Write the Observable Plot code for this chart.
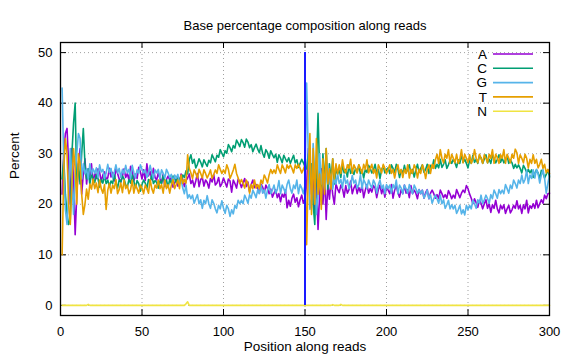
<!DOCTYPE html>
<html>
<head>
<meta charset="utf-8">
<script src="https://cdn.jsdelivr.net/npm/d3@7"></script>
<script src="https://cdn.jsdelivr.net/npm/@observablehq/plot@0.6"></script>
<style>
  body { margin: 0; background: white; }
  #chart svg { display: block; }
</style>
</head>
<body>
<div id="chart"></div>
<script>
const title = "Base percentage composition along reads";
const xLabel = "Position along reads";
const yLabel = "Percent";
const bases = ["A", "C", "G", "T", "N"];
const colors = ["#9400d3", "#009e73", "#56b4e9", "#e69f00", "#f0e442"];
const xTicks = [0, 50, 100, 150, 200, 250, 300];
const yTicks = [0, 10, 20, 30, 40, 50];
const splitPosition = [150];

const A = [
 22,30,34,35,28,20,31,25,14,22,
 28,31,22,26,29,24,27,25.5,28,24,
 26.2,25.1,27,26.3,24.5,25.8,26.4,25,25.2,27.1,
 25.4,26.3,24.6,27.2,26.1,25,24.4,25.6,27,25.3,
 26.1,24.8,27.5,26.7,24.6,26,25.1,27.3,26.4,25,
 26.8,24.7,28,25.6,26.5,24.9,27.1,25.3,24.8,26.2,
 25.1,24.2,26,23.5,24.9,25.6,24.8,25.3,23.4,24.2,
 25,23.6,24.4,26,24.9,23.5,24.7,25.2,26,24.1,
 24.8,23.4,24.6,26.1,23.5,24.9,25.3,23.6,24.8,24.3,
 23.2,25.1,24.4,25.9,23.8,24.2,25.3,23.5,24.1,25.2,
 24.3,23.4,25,24.6,22.4,24.8,24.1,23.2,25,24.4,
 23.3,24.2,25.1,23.5,24.4,22.5,23.9,24.8,23.3,23.9,
 23.1,22.2,24,23.4,22.3,23.8,23.1,22.1,23,21.4,
 22.2,22.9,21.3,22.1,20.5,22,21.4,22.8,19.3,20.8,
 19.6,21.2,22,20.4,21.3,19.5,20.9,21.8,20.2,21,
 24,31,29,22,27,19,25,15,22,27,
 20,26,17,24,21,25,22,20,24,23,
 22.3,23.8,23.1,21.4,23.7,22.2,22.9,24.6,22.1,23.2,
 23.9,22.1,23.3,22.4,23.8,21.3,22.8,23.9,22.2,23.1,
 22.4,23.7,23.2,21.3,22.9,23.8,22.1,23.2,21.4,23.6,
 22.8,22.1,23.9,21.2,22.8,23.7,22.3,21.4,22.9,22.1,
 23.8,22.2,22.9,21.3,23.7,22.1,22.8,22.2,21.1,22.9,
 22.1,22.8,21.2,22.3,22.9,21.1,22.2,22.8,22.1,21.2,
 21.9,21.1,22.8,22.1,21.3,21.9,21.2,22.7,22,21.1,
 21.8,21.2,22.9,22.1,21.3,22.2,22.8,22.3,23.7,23.1,
 22,21.2,20.1,21.1,20.3,19.4,20.8,20.2,19.1,20.1,
 20.9,19.2,20.1,18.4,19.9,19.2,20.8,19.1,18.3,19.8,
 19.1,19.9,18.2,19.1,19.8,18.3,18.9,19.8,19.2,20.7,
 19.1,19.8,18.2,19.9,19.1,20.8,18.3,19.7,19.2,20.1,
 19.2,20.8,19.3,20.1,20.9,20.2,21.8,21.1,22.1,22.2
];
const C = [
 25,29,22,18,16,17,30,36,40,23,
 28,24,30,35,28,25,27,24,26,25,
 24.3,25.8,25.1,23.4,24.9,24.2,25.7,24.1,24.8,23.5,
 24.6,24.1,25.9,24.3,23.2,24.8,24.4,25.6,25,23.8,
 23.4,24.9,24.2,25.8,24.5,23.3,24.7,24.1,22.6,23.9,
 24.8,24.2,23.1,24.9,24.5,25.8,24.1,24.7,24.3,23.2,
 24.6,24.1,25.7,24.3,24.8,23.4,24.9,24.2,25.6,25.1,
 24.3,25.5,25,24.2,25.8,25.3,26.6,26,28.8,29.8,
 28.1,28.9,27.2,27.9,29,28.3,27.4,28.8,28.1,27.5,
 28.7,28.2,29.8,29.1,28.4,29.7,29.3,30.8,30.1,29.4,
 30.6,30.1,31.8,31.2,30.4,31.6,31.1,32.7,32.1,31.4,
 32.8,32.2,31.3,32.9,32.3,31.2,31.8,30.4,31.2,31.9,
 30.9,30.2,31.6,30.1,29.3,30.8,30.2,29.1,30.6,29.8,
 29.2,29.9,28.3,29.8,29.1,28.2,29.7,29,28.4,29.2,
 28.1,28.9,29.7,28.2,28.8,27.3,28.1,28.9,28.2,27.4,
 27,30,24,28,20,16,27,38,26,21,
 30,24,31,23,28,25,29,24,27,26,
 26.8,25.3,27.9,26.2,26.9,25.4,27.8,26.1,26.7,25.9,
 27.1,26.3,27.8,26,26.8,25.2,26.9,26.3,27.7,27.1,
 26.2,26.8,27.9,26.1,26.9,25.1,26.8,27.6,26.2,26.9,
 27.2,26.1,27.8,27.1,26.3,27.9,27,25.3,26.8,26.1,
 27.7,26.2,26.9,27.8,26.1,26.9,25.4,26.8,27.9,26.3,
 27.1,27.8,26.3,26.9,27.9,26.1,27.7,27.2,28.8,27.1,
 27.9,27.2,28.9,27.3,27.9,28.8,27.1,27.8,28.7,28.1,
 28.9,28.2,27.3,28.8,28.1,29.8,28.3,28.9,28.1,27.2,
 28.8,28.1,29.7,28.3,28.9,28.1,29.6,29.2,28.1,28.9,
 29.8,28.2,28.9,28.1,29.7,29.1,28.2,28.9,29.8,28.3,
 29.1,28.2,28.8,29.6,28.1,28.8,28.2,27.1,27.9,27.2,
 27.8,27.1,26.2,27.7,27.1,26.3,26.9,26.2,26.8,25.3,
 26.1,26.8,26.2,25.1,26.7,26.2,25.2,25.9,26.8,25.4
];
const G = [
 43,28,19,16,22,31,25,18,26,30,
 34,33,25,28,26,27,25,28,26,27,
 26.1,27.2,25.3,27.8,26.4,26.9,25.1,26.2,27.9,26.3,
 27.1,25.2,26.4,27.8,26.2,27.1,25.3,26.9,26.1,27.7,
 26.2,26.9,25.1,27.7,26.3,25.2,26.8,26.1,27.8,26.9,
 26.2,26.8,25.3,26.1,27.7,26.2,25.1,26.8,26.2,26.9,
 25.1,26.8,26.1,25.2,26.9,26.2,25.3,25.9,24.1,25.8,
 25.2,25.9,24.1,24.9,23.2,22.1,23.8,21.2,21.9,21.1,
 21.8,20.2,21.1,21.9,20.1,20.9,19.2,20.8,20.1,21.7,
 20.1,19.2,20.9,20.2,19.1,18.3,19.8,19.1,20.7,19.2,
 18.2,19.8,19.1,17.6,18.9,18.1,19.8,19.2,20.8,20.1,
 20.8,20.1,21.8,21.1,20.2,21.9,21.2,22.8,22.1,21.3,
 22.9,22.1,23.8,22.2,22.9,21.2,22.8,23.9,22.1,22.8,
 23.8,22.2,22.9,24.7,22.1,23.8,23.1,22.2,23.9,24.8,
 23.1,22.2,23.8,23.1,24.8,22.1,23.9,23.2,22.1,23.8,
 44,30,19,21,32,26,18,22,30,24,
 27,23,25,28,24,26,23,25,24,26,
 24.1,24.9,23.2,25.8,24.1,24.8,23.1,23.9,25.7,24.2,
 24.8,23.2,23.9,25.8,23.1,24.9,24.2,23.1,24.8,23.9,
 23.2,24.8,24.1,22.2,23.9,24.8,23.1,23.8,22.1,23.9,
 23.1,23.8,22.2,23.9,23.1,24.8,22.1,23.8,23.2,22.1,
 23.8,23.1,22.2,23.9,22.8,22.1,23.8,23.1,22.2,22.9,
 22.1,22.8,21.2,21.9,22.8,21.1,21.9,20.2,21.1,21.8,
 21.1,20.2,21.8,20.1,20.9,19.2,19.9,20.8,19.1,19.9,
 19.1,19.8,18.2,18.9,19.8,18.1,18.9,17.9,19.8,18.9,
 19.8,19.1,20.8,20.1,19.2,20.9,20.2,21.8,20.1,20.9,
 21.8,21.1,20.2,21.9,21.1,22.8,22.1,21.2,22.9,22.1,
 22.8,22.1,23.9,23.1,22.2,23.8,23.1,24.8,24.1,23.2,
 24.8,24.1,25.8,24.2,24.9,26.7,24.1,25.8,25.1,26.8,
 25.2,26.9,26.1,24.2,25.8,26.9,25.1,22.2,24.1,25.8
];
const T = [
 10,27,33,30,20,16,24,31,27,20,
 30,28,22,18,20,23,21,24,23,25,
 23.1,24.2,22.3,24.8,23.1,22.2,23.9,19,22.8,24.1,
 22.2,23.8,23.1,24.9,22.1,22.9,24.2,22.3,24.8,23.1,
 23.8,22.1,22.9,24.8,22.2,23.9,23.1,22.2,23.8,23.2,
 22.1,23.8,23.1,22.2,24.9,23.1,22.2,23.8,23.2,24.8,
 23.1,23.9,22.2,24.8,23.1,23.9,22.2,23.8,24.9,23.1,
 23.9,24.8,23.1,25.8,24.1,24.9,24.2,29.8,27.1,26.2,
 25.1,26.8,26.1,25.2,26.9,26.1,25.2,26.8,26.1,25.2,
 25.9,26.8,25.1,25.9,26.8,26.1,27.8,26.9,26.1,26.8,
 26.1,27.8,26.9,25.1,25.9,26.8,27.9,26.1,25.2,24.1,
 24.9,24.1,23.2,24.8,24.1,22.2,23.9,23.1,24.8,23.2,
 23.9,23.1,24.8,24.1,25.8,25.1,24.2,25.8,26.9,26.1,
 26.8,26.1,27.8,26.9,26.1,27.8,27.1,26.2,27.8,27.1,
 27.8,27.1,26.2,27.8,27.1,27.9,27.1,26.2,26.9,27.8,
 12,26,34,18,31,20,33,22,26,19,
 29,22,31,24,27,23,29,25,28,26,
 27.8,26.1,28.8,26.9,26.2,27.8,27.1,28.9,26.1,27.8,
 27.1,26.2,27.8,27.1,26.1,27.9,26.9,28.8,26.2,27.1,
 27.9,26.1,26.9,25.2,27.8,27.1,26.2,27.9,27.1,26.1,
 26.9,27.8,26.1,26.9,25.2,26.9,27.8,26.1,26.9,25.3,
 26.9,26.1,27.8,25.2,26.9,26.1,27.8,27.1,25.2,26.9,
 26.1,27.8,26.9,25.1,26.9,27.8,26.1,27.9,27.1,28.8,
 29.9,28.1,30.8,29.1,28.2,29.9,29.1,30.8,28.1,29.9,
 29.1,28.2,29.9,28.1,28.9,30.8,28.2,29.9,29.1,28.2,
 29.8,28.1,28.9,30.8,29.1,28.2,29.9,29.1,28.1,29.8,
 29.1,28.2,29.9,29.1,30.8,28.1,29.9,29.2,28.1,29.8,
 29.1,30.8,28.1,29.9,29.1,28.2,29.9,29.1,30.9,30.2,
 28.1,29.8,29.1,28.2,29.9,29.1,27.2,28.9,28.1,29.8,
 28.1,28.9,27.2,27.9,28.9,27.1,27.9,26.2,26.9,26.1
];
const N = [
 0,0,0,0,0,0,0,0,0,0,
 0,0,0,0,0,0,0.2,0,0,0,
 0,0,0,0,0,0,0,0,0,0,
 0,0,0,0,0,0,0,0,0,0,
 0,0,0,0,0,0,0,0,0,0,
 0,0,0,0,0,0,0,0,0,0,
 0,0,0,0,0,0,0,0,0,0,
 0,0,0,0,0,0,0.3,0.7,0,0,
 0,0,0,0,0,0,0,0,0,0,
 0,0,0,0,0,0,0,0,0,0,
 0,0,0,0,0,0,0,0,0,0,
 0,0,0,0,0,0,0,0,0,0,
 0,0,0,0,0,0,0,0,0,0,
 0,0,0,0,0,0,0,0,0,0,
 0,0,0,0,0,0,0,0,0,0,
 0,0,0,0,0,0,0,0,0,0,
 0,0,0,0,0,0,0.15,0,0,0,
 0,0.2,0,0,0,0,0,0,0,0,
 0,0,0,0,0,0,0,0,0,0,
 0,0,0,0,0,0,0,0,0,0,
 0,0,0,0,0,0,0,0,0,0,
 0,0,0,0,0,0,0,0,0,0,
 0,0,0,0,0,0,0,0,0,0,
 0,0,0,0,0,0,0,0,0,0,
 0,0,0,0,0,0,0,0,0,0,
 0,0,0,0,0,0,0,0,0,0,
 0,0,0,0,0,0,0,0,0,0,
 0,0,0,0,0,0,0,0,0,0,
 0,0,0,0,0,0,0,0,0,0,
 0,0,0,0,0,0,0,0,0,0
];

const series = [A, C, G, T, N];
const rows = bases.flatMap((b, i) => series[i].map((v, j) => ({base: b, pos: j + 1, pct: v})));

const W = 576, H = 360, ML = 60, MR = 27, MT = 42, MB = 45;
const innerW = W - ML - MR, innerH = H - MT - MB;
const tick = 6;
const font = "'Liberation Sans', Arial, sans-serif";

const chart = Plot.plot({
  width: W, height: H,
  marginLeft: ML, marginRight: MR, marginTop: MT, marginBottom: MB,
  style: {fontFamily: font, fontSize: "13px", background: "white", color: "black"},
  x: {domain: [0, 300]},
  y: {domain: [-2, 52]},
  color: {domain: bases, range: colors},
  marks: [
    Plot.gridX(xTicks, {stroke: "#a0a0a0", strokeOpacity: 1, strokeDasharray: "1,3"}),
    Plot.gridY(yTicks, {stroke: "#a0a0a0", strokeOpacity: 1, strokeDasharray: "1,3"}),
    Plot.ruleX(xTicks, {insetTop: innerH - tick, stroke: "black"}),
    Plot.ruleX(xTicks, {insetBottom: innerH - tick, stroke: "black"}),
    Plot.ruleY(yTicks, {insetRight: innerW - tick, stroke: "black"}),
    Plot.ruleY(yTicks, {insetLeft: innerW - tick, stroke: "black"}),
    Plot.axisX(xTicks, {tickSize: 0, tickPadding: 11, label: null, fontSize: 13}),
    Plot.axisY(yTicks, {tickSize: 0, tickPadding: 8, label: null, fontSize: 13}),
    Plot.line(rows, {x: "pos", y: "pct", z: "base", stroke: "base", strokeWidth: 1.6, curve: "linear"}),
    Plot.ruleX(splitPosition, {y1: 0, y2: 50, stroke: "#1a1aff", strokeWidth: 2}),
    Plot.frame({stroke: "black", strokeWidth: 1.3}),
    Plot.text([title], {frameAnchor: "top", dy: -22, fontSize: 13}),
    Plot.text([xLabel], {frameAnchor: "bottom", dy: 35, fontSize: 13.5}),
    Plot.text([yLabel], {frameAnchor: "left", dx: -46, rotate: -90, fontSize: 13.5})
  ]
});

document.getElementById("chart").appendChild(chart);

// legend (inside top-right)
const svg = d3.select(chart);
const lg = svg.append("g").attr("font-family", font).attr("font-size", 13.5);
bases.forEach((b, i) => {
  const y = MT + 12 + i * 14.3;
  lg.append("text").attr("x", W - MR - 62).attr("y", y).attr("dy", "0.35em")
    .attr("text-anchor", "end").attr("fill", "black").text(b);
  lg.append("line").attr("x1", W - MR - 56).attr("x2", W - MR - 16)
    .attr("y1", y).attr("y2", y).attr("stroke", colors[i]).attr("stroke-width", 1.6);
});
</script>
</body>
</html>
